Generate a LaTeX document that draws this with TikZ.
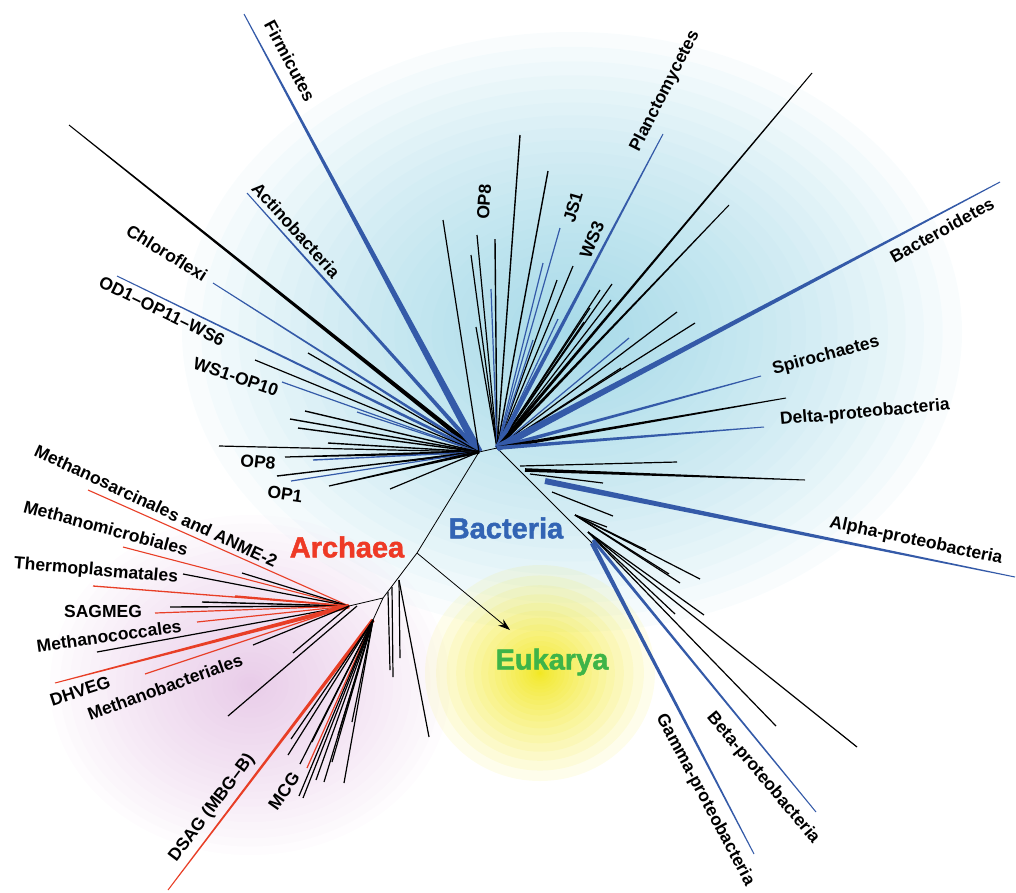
\documentclass[tikz,border=0pt]{standalone}
\usepackage{fontspec}
\setmainfont{Liberation Sans}
\newfontfamily\heavyfont[BoldFeatures={FakeBold=1.6}]{Liberation Sans}
\usetikzlibrary{calc,arrows.meta}
\definecolor{bbl}{RGB}{52,90,168}
\definecolor{rrd}{RGB}{232,62,38}
\definecolor{bactblue}{RGB}{50,100,180}
\definecolor{archred}{RGB}{238,58,38}
\definecolor{eukgreen}{RGB}{62,180,72}
\definecolor{glowblue}{RGB}{158,214,230}
\definecolor{glowpink}{RGB}{222,180,222}
\definecolor{glowyellow}{RGB}{240,228,0}
\newcommand\tbr[5]{\fill[#1] ($(#2)!#4!90:(#3)$) -- ($(#3)!#5!-90:(#2)$) -- ($(#3)!#5!90:(#2)$) -- ($(#2)!#4!-90:(#3)$) -- cycle;}
\begin{document}
\begin{tikzpicture}[x=1pt,y=-1pt,
  lab/.style={font=\fontsize{17.5}{20}\selectfont\bfseries, inner sep=0pt},
  big/.style={font=\heavyfont\fontsize{29}{34}\selectfont\bfseries, inner sep=0pt},
  bk/.style={draw=black, line width=1.2pt},
  bl/.style={draw=bbl, line width=1.2pt},
  rd/.style={draw=rrd, line width=1.2pt},
  trunk/.style={draw=black, line width=0.8pt}]
\useasboundingbox (0,0) rectangle (1016,892);
% glows
\foreach \i in {0,...,39}
  \fill[glowblue, fill opacity=0.062] (572,332) ellipse [x radius={((40-\i)/40)^2*390pt}, y radius={((40-\i)/40)^2*300pt}];
\foreach \i in {0,...,29}
  \fill[glowpink, fill opacity=0.04] (250,685) ellipse [x radius={((30-\i)/30)^1.5*200pt}, y radius={((30-\i)/30)^1.5*170pt}];
\foreach \i in {0,...,29}
  \fill[glowyellow, fill opacity=0.08] (540,673) ellipse [x radius={((30-\i)/30)^3*115pt}, y radius={((30-\i)/30)^3*108pt}];
% hubs
\coordinate (L) at (479,452);
\coordinate (R) at (497,448);
\coordinate (A0) at (417,553);
\coordinate (A1) at (383,598);
\coordinate (A2) at (349,606);
\coordinate (M) at (373,620);
\coordinate (T1) at (520,466);
\coordinate (T2) at (530,474);
\coordinate (T3) at (552,492);
\coordinate (T4) at (575,515);
\coordinate (T5) at (588,532);
\coordinate (T6) at (592,543);
\coordinate (P1) at (399,580);
\coordinate (P2) at (392,587);
\coordinate (P3) at (388,592);
\coordinate (EukTip) at (510,630);
% trunks
\draw[trunk] (R) -- (L) -- (A0) -- (A1) -- (A2);
\draw[trunk] (A1) -- (M);
\draw[trunk] (R) -- (T6);
% ---- left bacterial fan
\tbr{black}{L}{69,125}{2.4pt}{0.5pt}
\tbr{bbl}{L}{244,14}{3.8pt}{0.5pt}
\tbr{bbl}{L}{247,193}{2.2pt}{0.5pt}
\tbr{bbl}{L}{213,283}{1.5pt}{0.5pt}
\tbr{bbl}{L}{117,276}{1.5pt}{0.5pt}
\draw[bk] (L) -- (308,353);
\draw[bk] (L) -- (255,360);
\draw[bl] (L) -- (282,382);
\draw[bl] (L) -- (357,412);
\draw[bk, line width=1.4pt] (L) -- (305,411);
\draw[bk, line width=1.4pt] (L) -- (290,419);
\draw[bk, line width=1.4pt] (L) -- (298,428);
\draw[bk, line width=1.4pt] (L) -- (328,443);
\draw[bk] (L) -- (219,446);
\tbr{black}{L}{285,457}{1.6pt}{0.6pt}
\draw[bl, line width=1.4pt] (L) -- (313,460);
\tbr{black}{L}{390,463}{1.6pt}{0.6pt}
\draw[bk, line width=1.4pt] (L) -- (277,476);
\draw[bl] (L) -- (291,481);
\tbr{black}{L}{329,486}{1.5pt}{0.6pt}
\draw[bk] (L) -- (390,489);
\draw[bk] (L) -- (443,220);
% ---- upper bacterial fan
\draw[bk] (R) -- (477,235);
\draw[bk] (R) -- (471,255);
\draw[bk, line width=1.4pt] (R) -- (495,239);
\draw[bl] (R) -- (491,289);
\draw[bk] (R) -- (476,327);
\draw[bk, line width=1.4pt] (R) -- (520,135);
\draw[bk, line width=1.4pt] (R) -- (548,171);
\draw[bl] (R) -- (560,228);
\draw[bl] (R) -- (543,263);
\draw[bk] (R) -- (557,280);
\draw[bk] (R) -- (573,266);
\draw[bl] (R) -- (558,319);
\draw[bl] (R) -- (533,340);
\draw[bk] (R) -- (600,290);
\draw[bk] (R) -- (612,284);
\draw[bk] (R) -- (611,300);
\draw[bk] (R) -- (590,308);
\draw[bk] (R) -- (584,322);
\tbr{bbl}{R}{663,134}{2.4pt}{0.5pt}
\tbr{black}{R}{812,73}{1.6pt}{0.5pt}
\tbr{black}{R}{729,205}{1.6pt}{0.5pt}
\draw[bk] (R) -- (677,312);
\draw[bk] (R) -- (695,323);
\draw[bl] (R) -- (629,338);
\draw[bk] (R) -- (621,368);
\tbr{bbl}{R}{1000,182}{3.6pt}{0.5pt}
\tbr{bbl}{R}{761,376}{2pt}{0.5pt}
\tbr{black}{R}{786,398}{1.8pt}{0.5pt}
\tbr{bbl}{R}{764,427}{2pt}{0.5pt}
% ---- bacterial trunk fan
\draw[bk] (T1) -- (677,462);
\tbr{black}{525,470}{805,480}{1.8pt}{0.5pt}
\draw[bk] (T2) -- (603,483);
\tbr{bbl}{545,481}{1015,577}{3pt}{0.5pt}
\draw[bk] (T3) -- (613,516);
\draw[bk] (T4) -- (607,527);
\draw[bk] (T4) -- (646,550);
\draw[bk] (T4) -- (669,574);
\draw[bk] (T4) -- (680,583);
\draw[bk] (T4) -- (700,579);
\draw[bk] (T5) -- (675,614);
\draw[bk] (T5) -- (704,615);
\draw[bk] (T5) -- (776,726);
\draw[bk] (T5) -- (857,747);
\tbr{bbl}{593,540}{816,812}{1.6pt}{0.5pt}
\tbr{bbl}{T6}{754,854}{2.3pt}{0.5pt}
% ---- archaeal left fan
\draw[rd, line width=1.1pt] (A2) -- (88,490);
\draw[rd, line width=1.1pt] (A2) -- (123,547);
\draw[bk] (A2) -- (242,573);
\draw[bk] (A2) -- (183,574);
\draw[rd, line width=1.3pt] (A2) -- (93,586);
\draw[bk, line width=1.4pt] (A2) -- (202,602);
\draw[bk, line width=1.4pt] (A2) -- (170,607);
\draw[rd, line width=1.5pt] (A2) -- (235,596);
\draw[rd] (A2) -- (155,613);
\draw[rd] (A2) -- (197,622);
\draw[bk] (A2) -- (97,652);
\tbr{rrd}{A2}{55,683}{2.3pt}{0.5pt}
\draw[rd] (A2) -- (145,674);
\draw[bk] (A2) -- (253,645);
\draw[bk] (A2) -- (293,653);
\draw[bk] (357,606) -- (228,716);
% ---- MCG / DSAG fan
\tbr{rrd}{M}{168,890}{2pt}{0.5pt}
\draw[bk] (M) -- (291,739);
\draw[bk] (M) -- (288,755);
\draw[bk] (M) -- (300,764);
\draw[rd] (M) -- (307,768);
\draw[bk] (M) -- (299,796);
\draw[bk] (M) -- (303,798);
\draw[bk] (M) -- (316,780);
\draw[bk] (M) -- (324,782);
\draw[bk] (M) -- (332,762);
\draw[bk] (M) -- (344,783);
\draw[bk] (M) -- (352,722);
\draw[bk] (M) -- (312,742);
\draw[bk] (M) -- (338,735);
% ---- archaeal trunk branches
\draw[bk] (P3) -- (390,670);
\draw[bk] (P2) -- (393,677);
\draw[bk] (P1) -- (400,658);
\draw[bk] (P1) -- (429,737);
% ---- arrow to Eukarya
\draw[line width=0.8pt, -{Stealth[length=12pt,width=8pt]}] (A0) -- (EukTip);
% ---- labels
\node[lab, rotate=-62] (nFirm) at (290,61) {Firmicutes};
\node[lab, rotate=-48] (nActino) at (296,230) {Actinobacteria};
\node[lab, rotate=-32] (nChloro) at (167,253) {Chloroflexi};
\node[lab, rotate=-26] (nOD1) at (162,311) {OD1–OP11–WS6};
\node[lab, rotate=-19] (nWS1) at (236,377) {WS1-OP10};
\node[lab, rotate=-6] (nOP8a) at (258,462) {OP8};
\node[lab, rotate=-8] (nOP1) at (285,494) {OP1};
\node[lab, rotate=86] (nOP8b) at (484,202) {OP8};
\node[lab, rotate=74] (nJS1) at (573,207) {JS1};
\node[lab, rotate=68] (nWS3) at (592,240) {WS3};
\node[lab, rotate=63] (nPlanc) at (665,91) {Planctomycetes};
\node[lab, rotate=29] (nBacteroid) at (942,230) {Bacteroidetes};
\node[lab, rotate=15] (nSpiro) at (826,356) {Spirochaetes};
\node[lab, rotate=5] (nDelta) at (865,413) {Delta-proteobacteria};
\node[lab, rotate=-12] (nAlpha) at (916,541) {Alpha-proteobacteria};
\node[lab, rotate=-50] (nBeta) at (763,778) {Beta-proteobacteria};
\node[lab, rotate=-62] (nGamma) at (705,800) {Gamma-proteobacteria};
\node[lab, rotate=-25] (nMsar) at (156,506) {Methanosarcinales and ANME-2};
\node[lab, rotate=-15] (nMmic) at (106,528) {Methanomicrobiales};
\node[lab, rotate=-5] (nTherm) at (96,571) {Thermoplasmatales};
\node[lab] (nSAG) at (103,611) {SAGMEG};
\node[lab, rotate=8] (nMcoc) at (109,636) {Methanococcales};
\node[lab, rotate=18] (nDHV) at (80,691) {DHVEG};
\node[lab, rotate=20] (nMbac) at (165,687) {Methanobacteriales};
\node[lab, rotate=53] (nDSAG) at (212,808) {DSAG (MBG–B)};
\node[lab, rotate=55] (nMCG) at (284,791) {MCG};
\node[big, text=bactblue] (nBacteria) at (506,528) {Bacteria};
\node[big, text=archred] (nArchaea) at (347,547) {Archaea};
\node[big, text=eukgreen] (nEuk) at (552,662) {Eukarya};
\end{tikzpicture}
\end{document}
